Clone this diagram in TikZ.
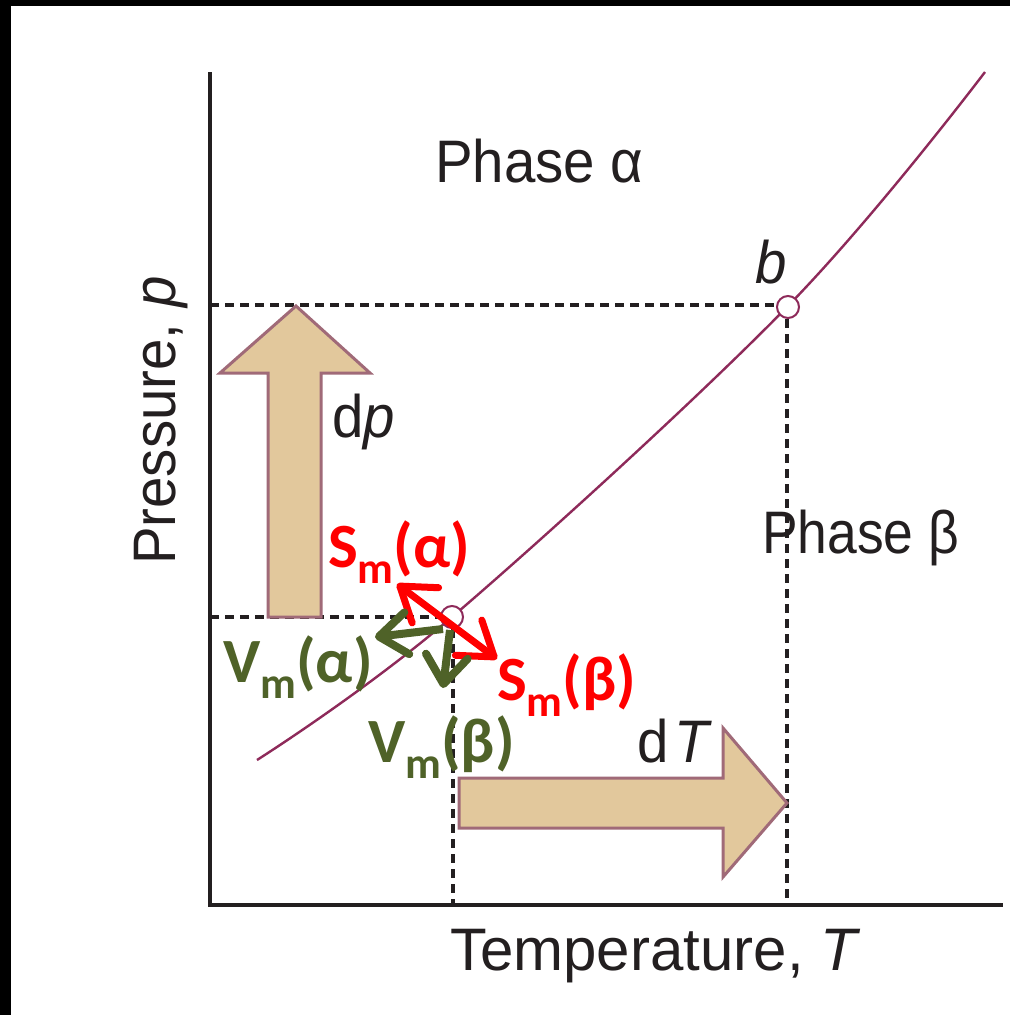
\documentclass[tikz,border=0pt]{standalone}
\usepackage{fontspec}
\setmainfont[FakeStretch=0.94]{Liberation Sans}
\newfontfamily\wideserif{Liberation Sans}
\newfontfamily\narrowsans[FakeStretch=0.89]{Liberation Sans}
\newfontfamily\calib{Carlito}
\usetikzlibrary{arrows.meta}
\definecolor{curvec}{HTML}{8E2A5A}
\definecolor{tanfill}{HTML}{E2C89C}
\definecolor{tanedge}{HTML}{A06A78}
\definecolor{olive}{HTML}{4F6228}
\definecolor{ink}{HTML}{231F20}
\newcommand\mylab[2]{{\calib\bfseries\fontsize{63}{65}\selectfont #1\raisebox{-16pt}{\fontsize{44}{44}\selectfont m}(#2)}}
\begin{document}
\begin{tikzpicture}[x=1pt,y=-1pt,
  txt/.style={anchor=base west,inner sep=0pt,text=ink,font=\fontsize{60}{62}\selectfont},
  lbl/.style={anchor=base west,inner sep=0pt},
  dline/.style={ink,line width=3.5pt,dash pattern=on 9pt off 6pt},
  bigarrow/.style={fill=tanfill,draw=tanedge,line width=3pt,line join=miter},
  pt/.style={circle,draw=curvec,fill=white,line width=2pt,minimum size=22pt,inner sep=0pt},
  redarr/.style={red,line width=7pt,{Straight Barb[length=32pt,width=44pt,line cap=round,line join=round]}-{Straight Barb[length=32pt,width=44pt,line cap=round,line join=round]}},
  grarr/.style={olive,line width=8pt,-{Straight Barb[length=28pt,width=42pt,line cap=round,line join=round]}}]
% frame
\fill[white] (0,0) rectangle (1010,1015);
\fill[black] (0,0) rectangle (1010,6);
\fill[black] (0,0) rectangle (11,1015);
\useasboundingbox (0,0) rectangle (1010,1015);
% axes
\draw[ink,line width=4.5pt] (210,72) -- (210,905) -- (1003,905);
% curve
\draw[curvec,line width=2.4pt] plot[smooth,tension=0.6] coordinates {(257,760) (452,617) (787,307) (985,72)};
% points
\node[pt] (pa) at (452,617) {};
\node[pt] (pb) at (788,307) {};
% dashed
\coordinate (ya) at (210,617);
\coordinate (xa) at (453,905);
\coordinate (yb) at (210,305);
\coordinate (xb) at (787,905);
\draw[dline] (ya) -- (pa.west);
\draw[dline] (pa.south) ++(1,0) -- (xa);
\draw[dline] (yb) -- (pb.west |- yb);
\draw[dline] (pb.south) ++(-1,0) -- (xb);
% big arrows
\draw[bigarrow] (268,617) -- (268,373) -- (220,373) -- (296,306) -- (370,373) -- (321,373) -- (321,617) -- cycle;
\draw[bigarrow] (459,778) -- (723,778) -- (723,728) -- (787,803) -- (723,877) -- (723,828) -- (459,828) -- cycle;
% labels
\node[txt] (phA) at (435,182) {Phase α};
\node[txt] (phB) at (762,553) {\narrowsans Phase β};
\node[txt] (bl) at (755,283) {\itshape b};
\node[txt] (dp) at (332,437) {d\textit{p}};
\node[txt] (dT) at (637,762) {d\kern6pt\textit{T}};
\node[txt] (xl) at (450,970) {\wideserif Temperature, \textit{T}};
\node[txt,rotate=90] (yl) at (175,565) {Pressure, \textit{p}};
% coloured labels
\node[lbl,text=red] (sa) at (328,567) {\mylab{S}{α}};
\node[lbl,text=red] (sb) at (497,700) {\mylab{S}{β}};
\node[lbl,text=olive] (va) at (223,682) {\mylab{V}{α}};
\node[lbl,text=olive] (vb) at (368,762) {\mylab{V}{β}};
% small arrows
\coordinate (r1) at (397,584);
\coordinate (r2) at (497,659);
\draw[redarr] (r1) -- (r2);
\coordinate (g0) at (443,629);
\coordinate (g1) at (375,637);
\coordinate (g2) at (450,630);
\coordinate (g3) at (443,688);
\draw[grarr] (g0) -- (g1);
\draw[grarr] (g2) -- (g3);
\end{tikzpicture}
\end{document}
